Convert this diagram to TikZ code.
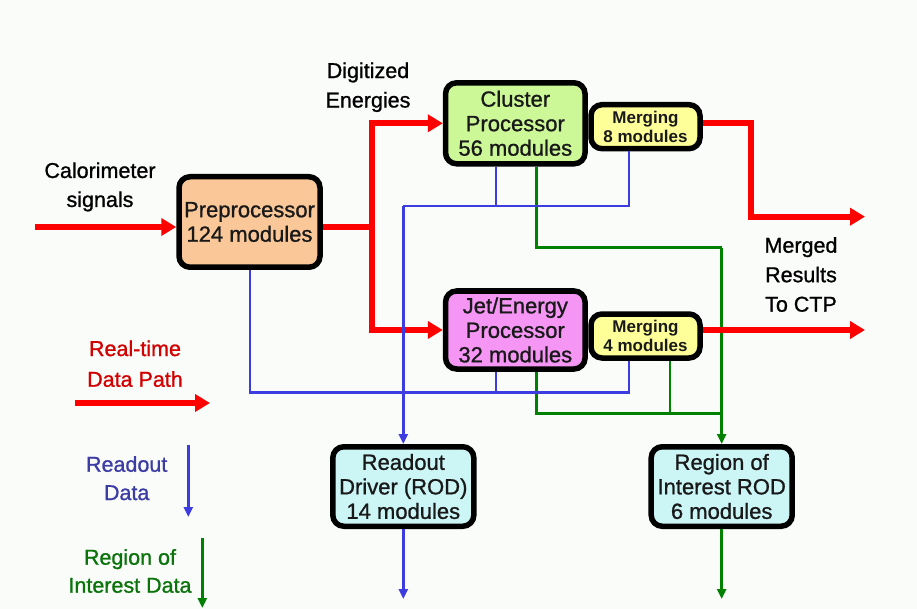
\documentclass[tikz,border=0pt]{standalone}
\usepackage{fontspec}
\setmainfont{Liberation Sans}[FakeBold=1.0,BoldFeatures={FakeBold=0}]
\usetikzlibrary{arrows.meta}
\definecolor{bg}{RGB}{250,252,250}
\definecolor{prefill}{RGB}{250,200,152}
\definecolor{cpfill}{RGB}{204,248,152}
\definecolor{jepfill}{RGB}{245,150,245}
\definecolor{mergefill}{RGB}{255,255,153}
\definecolor{rodfill}{RGB}{204,246,246}
\definecolor{rtred}{RGB}{255,0,0}
\definecolor{roblue}{RGB}{60,60,225}
\definecolor{roigreen}{RGB}{0,130,0}
\definecolor{rttext}{RGB}{210,0,0}
\definecolor{rotext}{RGB}{60,60,165}
\definecolor{roitext}{RGB}{10,115,10}
\begin{document}
\begin{tikzpicture}[x=1pt,y=-1pt,
  box/.style={draw=black,line width=5.5pt,rounded corners=11pt,align=center,
    inner sep=0pt,text=black!90,font=\fontsize{22}{24.5}\selectfont},
  mbox/.style={box,fill=mergefill,minimum width=109pt,minimum height=44pt,
    font=\bfseries\fontsize{17}{19.5}\selectfont},
  rodbox/.style={box,fill=rodfill,minimum width=141pt,minimum height=79.5pt},
  lbl/.style={align=center,inner sep=0pt,font=\fontsize{21.5}{29}\selectfont},
  rtline/.style={draw=rtred,line width=6pt},
  rtarrow/.style={rtline,-{Triangle[length=15pt,width=17pt]}},
  roline/.style={draw=roblue,line width=2.5pt},
  roarrow/.style={roline,-{Triangle[length=10pt,width=9pt]}},
  roiline/.style={draw=roigreen,line width=2.5pt},
  roiarrow/.style={roiline,-{Triangle[length=10pt,width=9pt]}}]

% page and background
\fill[bg] (0,0) rectangle (917,609);
\useasboundingbox (0,0) rectangle (917,609);

% processor boxes (merger boxes first so the processors overlap them)
\node[box,fill=prefill,minimum width=141pt,minimum height=90.5pt] (pre) at (249.5,222) {Preprocessor\\124 modules};
\node[mbox] (cpm) at (645.5,126.7) {Merging\\8 modules};
\node[box,fill=cpfill,minimum width=139.5pt,minimum height=81pt] (cp) at (515.3,123.3) {Cluster\\Processor\\56 modules};
\node[mbox] (jepm) at (645.5,336) {Merging\\4 modules};
\node[box,fill=jepfill,minimum width=139.5pt,minimum height=78pt] (jep) at (515.3,330) {Jet/Energy\\Processor\\32 modules};
\node[rodbox] (rod) at (403.3,486.5) {Readout\\Driver (ROD)\\14 modules};
\node[rodbox] (roi) at (721.7,486.5) {Region of\\Interest ROD\\6 modules};

% free labels
\node[lbl] (calo) at (100,186.9) {Calorimeter\\signals};
\node[lbl,font=\fontsize{21.5}{29.5}\selectfont] (digit) at (368,87.2) {Digitized\\Energies};
\node[lbl,font=\fontsize{21.5}{29.5}\selectfont] (merged) at (801,274.5) {Merged\\Results\\To CTP};

% routing points
\coordinate (calin) at (35,227);
\coordinate (split) at (372,227);
\coordinate (cpout) at (751,123);
\coordinate (cpdown) at (751,216.7);
\coordinate (ctp1) at (865,216.7);
\coordinate (ctp2) at (865,330);
\coordinate (bTl) at (403.3,206);
\coordinate (bTr) at (629,206);
\coordinate (bTm) at (496,206);
\coordinate (bBl) at (250,392.7);
\coordinate (bBr) at (629,392.7);
\coordinate (bBm) at (496,392.7);
\coordinate (gTl) at (536.7,247.7);
\coordinate (gTr) at (721.7,247.7);
\coordinate (gBl) at (536.7,413.3);
\coordinate (gBr) at (721.7,413.3);
\coordinate (gBm) at (670,413.3);
\coordinate (rodout) at (403.3,599);
\coordinate (roiout) at (721.7,599);

% region-of-interest paths (green)
\draw[roiline] (cp.south -| gTl) -- (gTl) -- (gTr);
\draw[roiarrow] (gTr) -- (roi.north);
\draw[roiline] (jep.south -| gBl) -- (gBl) -- (gBr);
\draw[roiline] (jepm.south -| gBm) -- (gBm);
\draw[roiarrow] (roi.south) -- (roiout);

% real-time data path (red)
\draw[rtarrow] (calin) -- (calin -| pre.west);
\draw[rtline] (pre.east |- split) -- (split);
\draw[rtarrow,line join=miter] (split) |- (cp.west);
\draw[rtarrow,line join=miter] (split) |- (jep.west);
\draw[rtarrow,line join=miter] (cpm.east |- cpout) -- (cpout) -- (cpdown) -- (ctp1);
\draw[rtarrow] (jepm.east |- ctp2) -- (ctp2);

% readout paths (blue)
\draw[roline] (cp.south -| bTm) -- (bTm);
\draw[roline] (cpm.south -| bTr) -- (bTr) -- (bTl);
\draw[roarrow] (bTl) -- (rod.north);
\draw[roline] (pre.south -| bBl) -- (bBl) -- (bBr) -- (jepm.south -| bBr);
\draw[roline] (jep.south -| bBm) -- (bBm);
\draw[roarrow] (rod.south) -- (rodout);

% legend
\node[lbl,text=rttext,font=\fontsize{21.5}{30.7}\selectfont] (lgrt) at (135,363.7) {Real-time\\Data Path};
\coordinate (lgrta) at (75,403);
\coordinate (lgrtb) at (210,403);
\draw[rtarrow] (lgrta) -- (lgrtb);
\node[lbl,text=rotext,font=\fontsize{21.5}{28.3}\selectfont] (lgro) at (126.7,478.2) {Readout\\Data};
\coordinate (lgroa) at (188.3,445);
\coordinate (lgrob) at (188.3,517);
\draw[roarrow] (lgroa) -- (lgrob);
\node[lbl,text=roitext,font=\fontsize{21.5}{28}\selectfont] (lgroi) at (130,571) {Region of\\Interest Data};
\coordinate (lgroia) at (202.3,538);
\coordinate (lgroib) at (202.3,608);
\draw[roiarrow] (lgroia) -- (lgroib);
\end{tikzpicture}
\end{document}
